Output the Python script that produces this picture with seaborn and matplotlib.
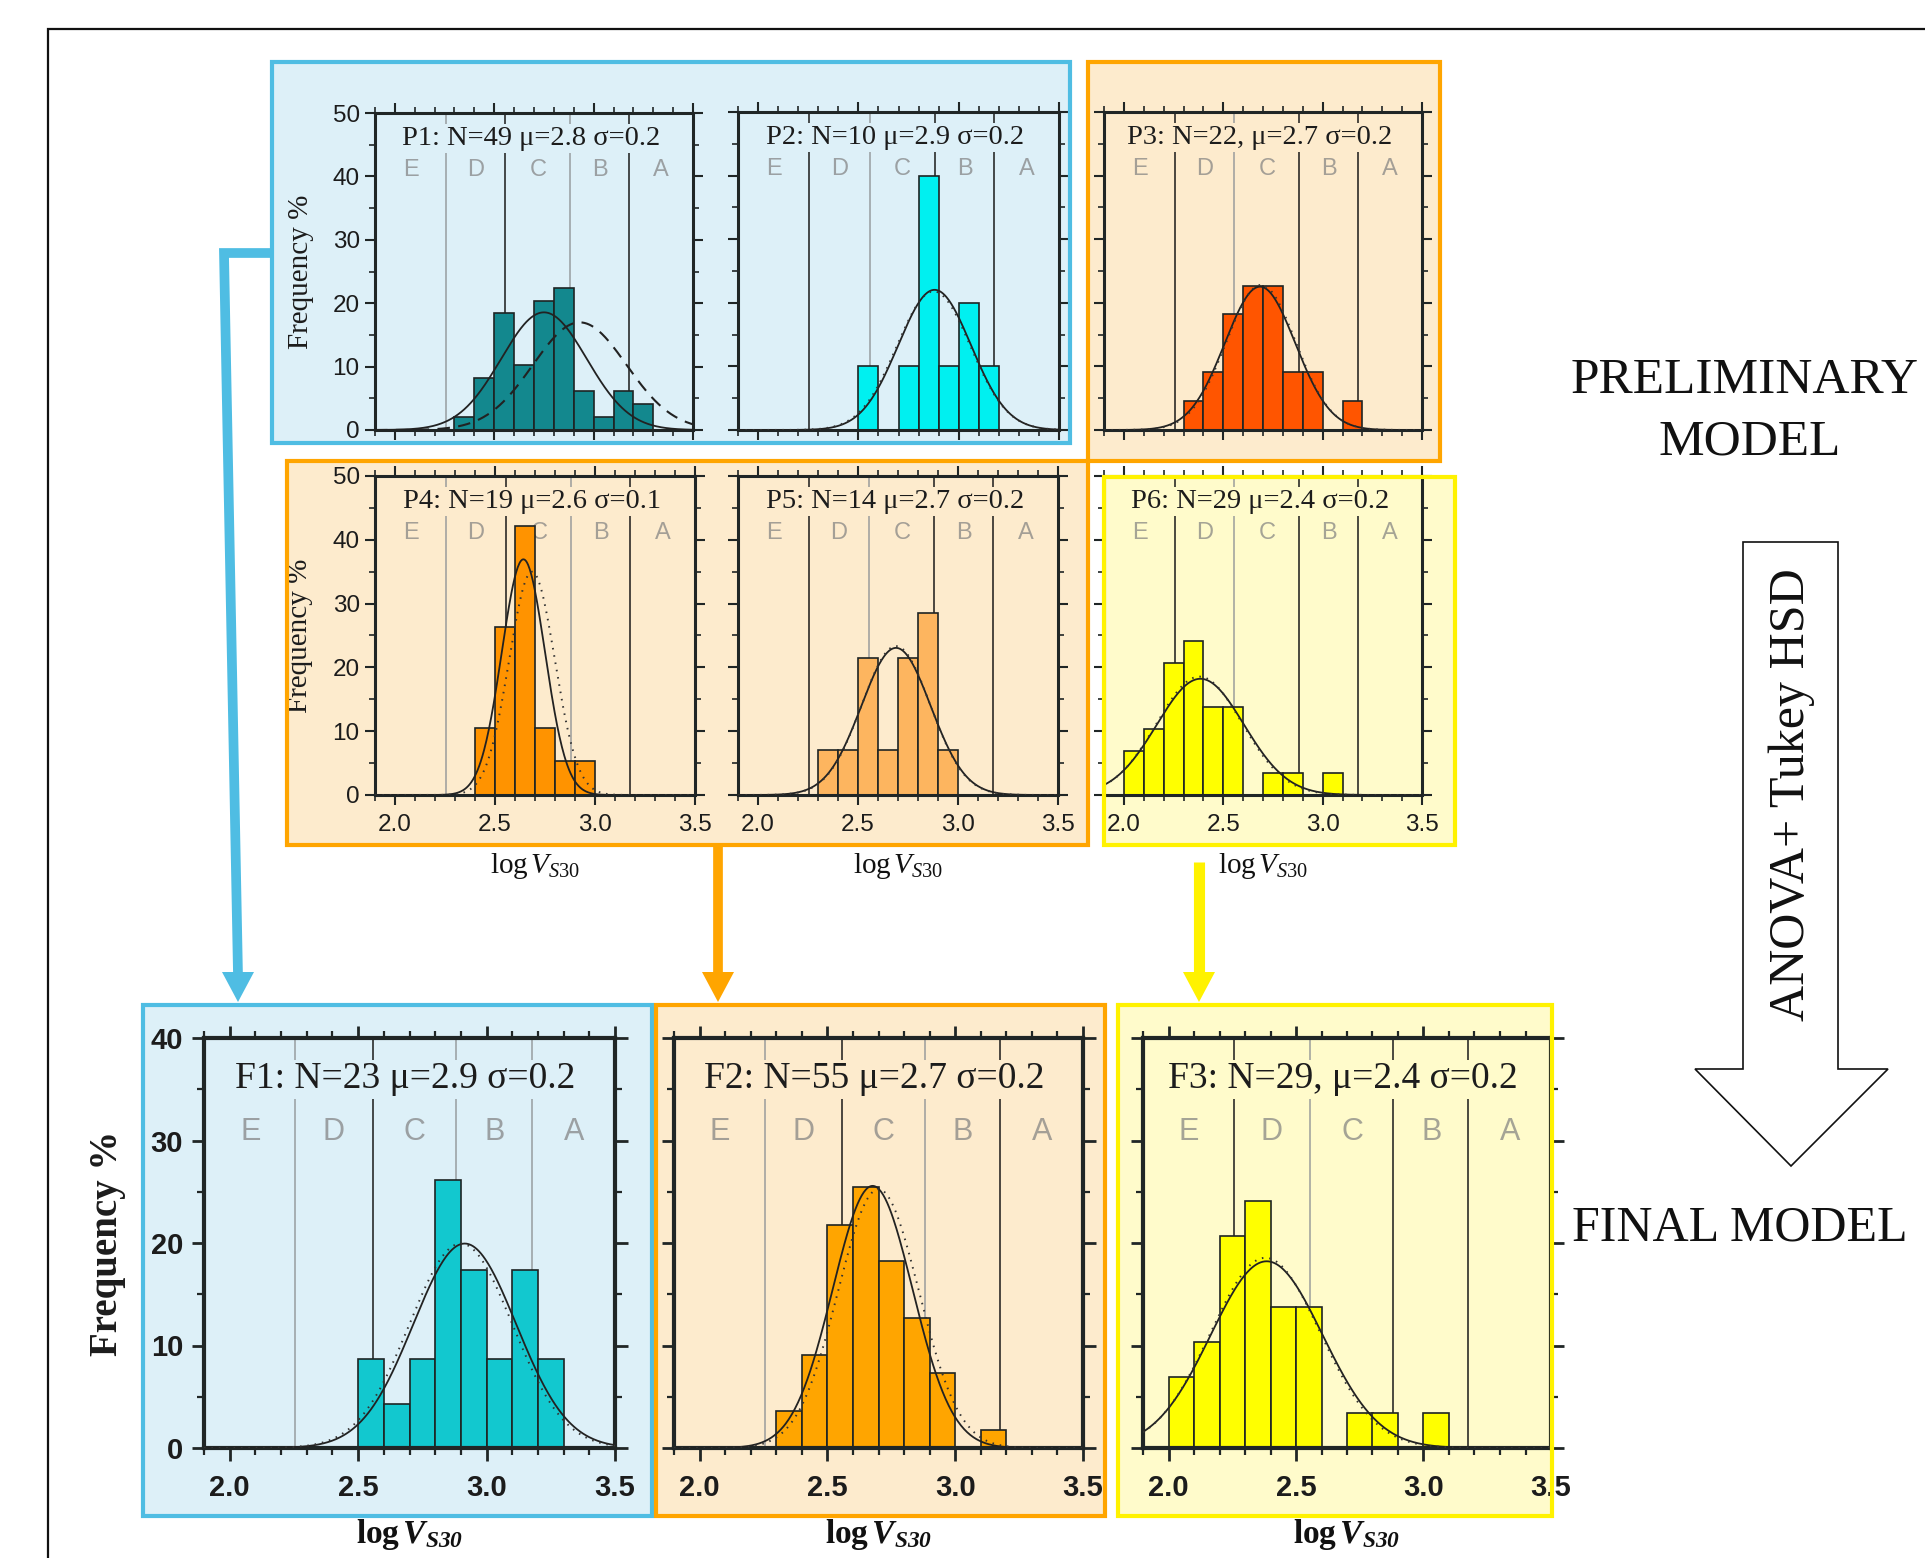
import numpy as np
import pandas as pd
import matplotlib
matplotlib.use("Agg")
import matplotlib.pyplot as plt
from matplotlib.patches import Rectangle, Polygon
from matplotlib.ticker import MultipleLocator
import seaborn as sns

# ---- data: bin left edges (logVs30) and frequency % ----
p1_bins = [2.3, 2.4, 2.5, 2.6, 2.7, 2.8, 2.9, 3.0, 3.1, 3.2]
p1_pct = [2.0, 8.2, 18.4, 10.2, 20.4, 22.4, 6.1, 2.0, 6.1, 4.1]
p2_bins = [2.5, 2.7, 2.8, 2.9, 3.0, 3.1]
p2_pct = [10.0, 10.0, 40.0, 10.0, 20.0, 10.0]
p3_bins = [2.3, 2.4, 2.5, 2.6, 2.7, 2.8, 2.9, 3.1]
p3_pct = [4.5, 9.1, 18.2, 22.7, 22.7, 9.1, 9.1, 4.5]
p4_bins = [2.4, 2.5, 2.6, 2.7, 2.8, 2.9]
p4_pct = [10.5, 26.3, 42.1, 10.5, 5.3, 5.3]
p5_bins = [2.3, 2.4, 2.5, 2.6, 2.7, 2.8, 2.9]
p5_pct = [7.1, 7.1, 21.4, 7.1, 21.4, 28.6, 7.1]
p6_bins = [2.0, 2.1, 2.2, 2.3, 2.4, 2.5, 2.7, 2.8, 3.0]
p6_pct = [6.9, 10.3, 20.7, 24.1, 13.8, 13.8, 3.4, 3.4, 3.4]
f1_bins = [2.5, 2.6, 2.7, 2.8, 2.9, 3.0, 3.1, 3.2]
f1_pct = [8.7, 4.3, 8.7, 26.1, 17.4, 8.7, 17.4, 8.7]
f2_bins = [2.3, 2.4, 2.5, 2.6, 2.7, 2.8, 2.9, 3.1]
f2_pct = [3.6, 9.1, 21.8, 25.5, 18.2, 12.7, 7.3, 1.8]
f3_bins = [2.0, 2.1, 2.2, 2.3, 2.4, 2.5, 2.7, 2.8, 3.0]
f3_pct = [6.9, 10.3, 20.7, 24.1, 13.8, 13.8, 3.4, 3.4, 3.4]

# fitted normal curves (mu, sigma): solid fit and dotted fit
p1_fit, p1_dash = (2.75, 0.215), (2.93, 0.235)
p2_fit, p2_dot = (2.88, 0.181), (2.875, 0.183)
p3_fit, p3_dot = (2.685, 0.177), (2.69, 0.175)
p4_fit, p4_dot = (2.642, 0.108), (2.685, 0.114)
p5_fit, p5_dot = (2.69, 0.173), (2.69, 0.171)
p6_fit, p6_dot = (2.385, 0.219), (2.38, 0.215)
f1_fit, f1_dot = (2.915, 0.200), (2.90, 0.200)
f2_fit, f2_dot = (2.677, 0.156), (2.70, 0.158)
f3_fit, f3_dot = (2.385, 0.219), (2.38, 0.215)

titles = ["P1: N=49 μ=2.8 σ=0.2", "P2: N=10 μ=2.9 σ=0.2", "P3: N=22, μ=2.7 σ=0.2",
          "P4: N=19 μ=2.6 σ=0.1", "P5: N=14 μ=2.7 σ=0.2", "P6: N=29 μ=2.4 σ=0.2",
          "F1: N=23 μ=2.9 σ=0.2", "F2: N=55 μ=2.7 σ=0.2", "F3: N=29, μ=2.4 σ=0.2"]

# NEHRP site class boundaries and labels
class_edges = [2.255, 2.556, 2.881, 3.176]
class_names = ["E", "D", "C", "B", "A"]
class_mid = [2.08, 2.405, 2.72, 3.03, 3.34]
# boundary line shade per panel (k = black, g = grey)
line_shades = [["g", "k", "g", "k"], ["k", "g", "k", "k"], ["k", "g", "k", "k"],
               ["g", "k", "g", "k"], ["k", "g", "k", "k"], ["k", "g", "k", "k"],
               ["g", "k", "g", "g"], ["g", "k", "g", "k"], ["k", "g", "k", "k"]]

W, H = 1925, 1558
BLUE_BG, BLUE_EDGE = "#DDF0F8", "#4FBDE3"
ORANGE_BG, ORANGE_EDGE = "#FDEBCD", "#FFA500"
YELLOW_BG, YELLOW_EDGE = "#FFFBCB", "#FFF200"
DARK = "#202626"

sns.set_style("ticks")
plt.rcParams["font.family"] = ["Liberation Sans", "DejaVu Sans"]
plt.rcParams["mathtext.fontset"] = "custom"
plt.rcParams["mathtext.rm"] = "Liberation Serif"
plt.rcParams["mathtext.it"] = "Liberation Serif:italic"
plt.rcParams["mathtext.bf"] = "Liberation Serif:bold"
plt.rcParams["mathtext.bfit"] = "Liberation Serif:bold:italic"
SERIF = ["Liberation Serif", "DejaVu Serif"]

fig = plt.figure(figsize=(W / 100, H / 100), dpi=100)


def px_axes(l, t, r, b, z=1):
    return fig.add_axes([l / W, 1 - b / H, (r - l) / W, (b - t) / H], zorder=z)


def gauss(x, mu, sd):
    # percent per 0.1 bin
    return 10.0 / (sd * np.sqrt(2 * np.pi)) * np.exp(-0.5 * ((x - mu) / sd) ** 2)


# background boxes
bg = px_axes(0, 0, W, H, z=0)
bg.set_xlim(0, W)
bg.set_ylim(H, 0)
bg.axis("off")
boxes = [
    (272, 62, 1070, 443, BLUE_BG, BLUE_EDGE),
    (1088, 62, 1440, 461, ORANGE_BG, ORANGE_EDGE),
    (287, 461, 1088, 845, ORANGE_BG, ORANGE_EDGE),
    (1104, 477, 1455, 845, YELLOW_BG, YELLOW_EDGE),
    (143, 1005, 652, 1516, BLUE_BG, BLUE_EDGE),
    (656, 1005, 1105, 1516, ORANGE_BG, ORANGE_EDGE),
    (1118, 1005, 1552, 1516, YELLOW_BG, YELLOW_EDGE),
]
for l, t, r, b, fc, ec in boxes:
    bg.add_patch(Rectangle((l, t), r - l, b - t, facecolor=fc, edgecolor="none"))

panels = [
    dict(box=(375, 113, 693, 430), bins=p1_bins, pct=p1_pct, color="#13888E", fit=p1_fit, dash=p1_dash, bg=BLUE_BG, ylab=True, xlab=False),
    dict(box=(738, 112, 1059, 430), bins=p2_bins, pct=p2_pct, color="#00F0F0", fit=p2_fit, dot=p2_dot, bg=BLUE_BG, ylab=False, xlab=False),
    dict(box=(1104, 112, 1422, 430), bins=p3_bins, pct=p3_pct, color="#FF5500", fit=p3_fit, dot=p3_dot, bg=ORANGE_BG, ylab=False, xlab=False),
    dict(box=(375, 476, 695, 795), bins=p4_bins, pct=p4_pct, color="#FF9300", fit=p4_fit, dot=p4_dot, bg=ORANGE_BG, ylab=True, xlab=True),
    dict(box=(738, 476, 1058, 795), bins=p5_bins, pct=p5_pct, color="#FDB55F", fit=p5_fit, dot=p5_dot, bg=ORANGE_BG, ylab=False, xlab=True),
    dict(box=(1104, 476, 1422, 795), bins=p6_bins, pct=p6_pct, color="#FFFF00", fit=p6_fit, dot=p6_dot, bg=YELLOW_BG, ylab=False, xlab=True),
    dict(box=(204, 1038, 615, 1448), bins=f1_bins, pct=f1_pct, color="#12C8CF", fit=f1_fit, dot=f1_dot, bg=BLUE_BG, ylab=True, xlab=True),
    dict(box=(674, 1038, 1083, 1448), bins=f2_bins, pct=f2_pct, color="#FFA500", fit=f2_fit, dot=f2_dot, bg=ORANGE_BG, ylab=False, xlab=True),
    dict(box=(1143, 1038, 1551, 1448), bins=f3_bins, pct=f3_pct, color="#FFFF00", fit=f3_fit, dot=f3_dot, bg=YELLOW_BG, ylab=False, xlab=True),
]

xs = np.linspace(1.9, 3.5, 400)

for i, p in enumerate(panels):
    final = i >= 6
    ax = px_axes(*p["box"], z=1)
    ax.set_facecolor("none")
    top = 40 if final else 50

    for x, shade in zip(class_edges, line_shades[i]):
        if shade == "k":
            ax.axvline(x, color="#1a1a1a", lw=1.1, zorder=1.2)
        else:
            ax.axvline(x, color="#8f9396", lw=1.4, alpha=0.7, zorder=1.2)

    for name, xm in zip(class_names, class_mid):
        ax.text(xm, top * (0.77 if final else 0.82), name, ha="center", va="center",
                color="#7f7f7f", alpha=0.7, fontsize=22 if final else 17, zorder=1.5)

    df = pd.DataFrame({"logv": np.array(p["bins"]) + 0.05, "pct": p["pct"]})
    sns.histplot(data=df, x="logv", weights="pct", binwidth=0.1, binrange=(1.9, 3.5),
                 color=p["color"], edgecolor="#1e2424", linewidth=1.2, alpha=1,
                 ax=ax, zorder=2)

    ax.plot(xs, gauss(xs, *p["fit"]), color="#222", lw=1.3, zorder=3)
    if "dash" in p:
        ax.plot(xs, gauss(xs, *p["dash"]), color="#222", lw=1.5, ls=(0, (6, 4)), zorder=3)
    if "dot" in p:
        ax.plot(xs, gauss(xs, *p["dot"]), color="#333", lw=1.4, ls=(0, (0.8, 3)), zorder=3)

    ax.text(0.49, 0.90 if final else 0.92, titles[i], transform=ax.transAxes,
            ha="center", va="center", family=SERIF, fontsize=27 if final else 20.5,
            color="#1c1c1c", zorder=4,
            bbox=dict(facecolor=p["bg"], edgecolor="none", pad=1.5))

    ax.set_xlim(1.9, 3.5)
    ax.set_ylim(0, top)
    ax.set_xlabel("")
    ax.set_ylabel("")
    ax.xaxis.set_major_locator(MultipleLocator(0.5))
    ax.xaxis.set_minor_locator(MultipleLocator(0.1))
    ax.yaxis.set_major_locator(MultipleLocator(10))
    ax.yaxis.set_minor_locator(MultipleLocator(5))

    for s in ax.spines.values():
        s.set_visible(True)
        s.set_color(DARK)
        s.set_linewidth(3.0 if final else 2.2)

    if final:
        ax.tick_params(which="major", length=9, width=2.0, labelsize=21, color=DARK)
        ax.tick_params(which="minor", length=5, width=1.6, color=DARK)
        ax.tick_params(axis="x", which="major", pad=10)
        ax.tick_params(axis="y", which="major", pad=6)
    else:
        ax.tick_params(which="major", length=7, width=1.5, labelsize=17.5, color=DARK)
        ax.tick_params(which="minor", length=4, width=1.2, color=DARK)
        ax.tick_params(axis="x", which="major", pad=7)
        ax.tick_params(axis="y", which="major", pad=4)
    ax.tick_params(which="both", direction="out", top=True, right=True,
                   labeltop=False, labelright=False,
                   labelleft=p["ylab"], labelbottom=p["xlab"], labelcolor="#1c1c1c")
    if final:
        for lbl in ax.get_xticklabels() + ax.get_yticklabels():
            lbl.set_fontweight("bold")

    if p["ylab"]:
        ax.text(-0.234, 0.5, "Frequency %", transform=ax.transAxes, rotation=90,
                ha="center", va="center", family=SERIF,
                fontsize=28 if final else 21,
                fontweight="bold" if final else "normal", color="#1c1c1c")
    if p["xlab"]:
        if final:
            lab = r"$\mathbf{log}\,\mathbfit{V}_{\mathbfit{S30}}$"
            ax.text(0.5, -0.232, lab, transform=ax.transAxes, ha="center",
                    va="baseline", fontsize=24, color="#111")
        else:
            lab = r"$\mathrm{log}\,V_{S30}$"
            ax.text(0.5, -0.245, lab, transform=ax.transAxes, ha="center",
                    va="baseline", fontsize=21, color="#111")

# overlay: box borders, connectors, annotations
ov = px_axes(0, 0, W, H, z=5)
ov.set_facecolor("none")
ov.set_xlim(0, W)
ov.set_ylim(H, 0)
ov.axis("off")

for l, t, r, b, fc, ec in boxes:
    ov.add_patch(Rectangle((l, t), r - l, b - t, facecolor="none", edgecolor=ec,
                           lw=3.0, joinstyle="miter"))

# outer frame
ov.plot([48, 48, W + 5], [H + 5, 29, 29], color="#111", lw=1.6,
        solid_joinstyle="miter")

# connectors
ov.plot([272, 224, 238], [253, 253, 975], color=BLUE_EDGE, lw=7,
        solid_joinstyle="miter", solid_capstyle="butt")
ov.add_patch(Polygon([(222, 972), (254, 972), (238, 1002)], closed=True,
                     facecolor=BLUE_EDGE, edgecolor="none"))
ov.plot([718, 718], [845, 975], color=ORANGE_EDGE, lw=7, solid_capstyle="butt")
ov.add_patch(Polygon([(702, 972), (734, 972), (718, 1002)], closed=True,
                     facecolor=ORANGE_EDGE, edgecolor="none"))
ov.plot([1199, 1199], [862, 975], color=YELLOW_EDGE, lw=8, solid_capstyle="butt")
ov.add_patch(Polygon([(1183, 972), (1215, 972), (1199, 1002)], closed=True,
                     facecolor=YELLOW_EDGE, edgecolor="none"))

# big hollow arrow
ov.add_patch(Polygon([(1743, 542), (1838, 542), (1838, 1069), (1888, 1069),
                      (1791, 1166), (1695, 1069), (1743, 1069)], closed=True,
                     facecolor="white", edgecolor="#111", lw=1.2))
ov.text(1792, 795, "ANOVA+ Tukey HSD", rotation=90, ha="center", va="center",
        family=SERIF, fontsize=36, color="#111")

ov.text(1745, 381, "PRELIMINARY", ha="center", va="center", family=SERIF,
        fontsize=37, color="#111")
ov.text(1750, 442, "MODEL", ha="center", va="center", family=SERIF,
        fontsize=37, color="#111")
ov.text(1572, 1228, "FINAL MODEL", ha="left", va="center", family=SERIF,
        fontsize=36, color="#111")

fig.savefig("out.png", dpi=100, facecolor="white")
